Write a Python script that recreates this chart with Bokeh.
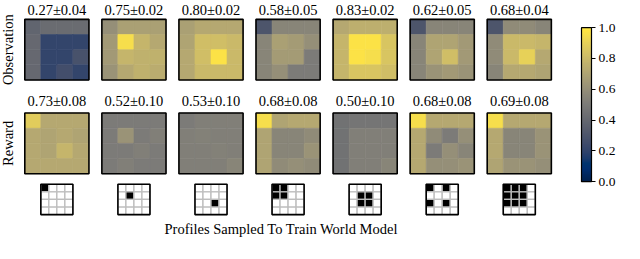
import numpy as np
from bokeh.plotting import figure
from bokeh.models import (Range1d, ColumnDataSource, LinearColorMapper, ColorBar,
                          FixedTicker, PrintfTickFormatter)
from bokeh.transform import transform
from bokeh.palettes import Cividis256
from bokeh.core.properties import value
from bokeh.embed import file_html
from bokeh.resources import INLINE

# ---------------- data ----------------
obs_titles = ["0.27±0.04", "0.75±0.02", "0.80±0.02", "0.58±0.05",
              "0.83±0.02", "0.62±0.05", "0.68±0.04"]
rew_titles = ["0.73±0.08", "0.52±0.10", "0.53±0.10", "0.68±0.08",
              "0.50±0.10", "0.68±0.08", "0.69±0.08"]
row_labels = ["Observation", "Reward"]
xlabel = "Profiles Sampled To Train World Model"
cbar_ticks = [0.0, 0.2, 0.4, 0.6, 0.8, 1.0]

obs_1 = [[0.38, 0.42, 0.42, 0.42], [0.40, 0.21, 0.21, 0.21], [0.40, 0.21, 0.21, 0.28], [0.40, 0.21, 0.26, 0.21]]
obs_2 = [[0.60, 0.68, 0.68, 0.68], [0.65, 0.95, 0.78, 0.72], [0.65, 0.78, 0.76, 0.76], [0.62, 0.72, 0.76, 0.74]]
obs_3 = [[0.68, 0.72, 0.72, 0.72], [0.70, 0.82, 0.82, 0.80], [0.72, 0.82, 0.97, 0.80], [0.72, 0.80, 0.80, 0.80]]
obs_4 = [[0.30, 0.55, 0.55, 0.55], [0.55, 0.68, 0.66, 0.60], [0.55, 0.66, 0.66, 0.50], [0.55, 0.60, 0.50, 0.50]]
obs_5 = [[0.72, 0.75, 0.75, 0.75], [0.78, 0.97, 0.97, 0.85], [0.78, 0.97, 0.95, 0.85], [0.78, 0.85, 0.85, 0.82]]
obs_6 = [[0.30, 0.55, 0.55, 0.55], [0.55, 0.70, 0.70, 0.65], [0.55, 0.70, 0.82, 0.65], [0.55, 0.62, 0.65, 0.62]]
obs_7 = [[0.30, 0.58, 0.58, 0.55], [0.58, 0.80, 0.80, 0.78], [0.58, 0.80, 0.90, 0.72], [0.55, 0.72, 0.72, 0.70]]

rew_1 = [[0.88, 0.72, 0.72, 0.72], [0.72, 0.70, 0.72, 0.70], [0.72, 0.70, 0.78, 0.72], [0.72, 0.72, 0.72, 0.72]]
rew_2 = [[0.50, 0.50, 0.50, 0.50], [0.50, 0.62, 0.50, 0.52], [0.50, 0.50, 0.52, 0.50], [0.50, 0.52, 0.50, 0.50]]
rew_3 = [[0.50, 0.52, 0.52, 0.52], [0.52, 0.53, 0.52, 0.52], [0.52, 0.52, 0.53, 0.52], [0.52, 0.52, 0.52, 0.55]]
rew_4 = [[0.95, 0.70, 0.72, 0.72], [0.70, 0.55, 0.55, 0.58], [0.70, 0.55, 0.55, 0.62], [0.70, 0.58, 0.60, 0.58]]
rew_5 = [[0.45, 0.47, 0.47, 0.47], [0.45, 0.52, 0.52, 0.52], [0.45, 0.52, 0.52, 0.52], [0.45, 0.52, 0.52, 0.55]]
rew_6 = [[0.95, 0.72, 0.72, 0.72], [0.72, 0.58, 0.50, 0.60], [0.72, 0.50, 0.60, 0.55], [0.72, 0.60, 0.60, 0.62]]
rew_7 = [[0.95, 0.72, 0.72, 0.72], [0.72, 0.55, 0.55, 0.62], [0.72, 0.55, 0.55, 0.62], [0.70, 0.62, 0.62, 0.60]]

prof_1 = [[1, 0, 0, 0], [0, 0, 0, 0], [0, 0, 0, 0], [0, 0, 0, 0]]
prof_2 = [[0, 0, 0, 0], [0, 1, 0, 0], [0, 0, 0, 0], [0, 0, 0, 0]]
prof_3 = [[0, 0, 0, 0], [0, 0, 0, 0], [0, 0, 1, 0], [0, 0, 0, 0]]
prof_4 = [[1, 1, 0, 0], [1, 1, 0, 0], [0, 0, 0, 0], [0, 0, 0, 0]]
prof_5 = [[0, 0, 0, 0], [0, 1, 1, 0], [0, 1, 1, 0], [0, 0, 0, 0]]
prof_6 = [[1, 0, 1, 0], [0, 0, 0, 0], [1, 0, 1, 0], [0, 0, 0, 0]]
prof_7 = [[1, 1, 1, 0], [1, 1, 1, 0], [1, 1, 1, 0], [0, 0, 0, 0]]

obs_maps = [obs_1, obs_2, obs_3, obs_4, obs_5, obs_6, obs_7]
rew_maps = [rew_1, rew_2, rew_3, rew_4, rew_5, rew_6, rew_7]
profiles = [prof_1, prof_2, prof_3, prof_4, prof_5, prof_6, prof_7]

# ---------------- layout (reference pixel units) ----------------
W, H = 640, 259
PW, PH = 622, 238
x_first, col_step, panel = 25.0, 79.3, 66.0
obs_top, rew_top = 20.5, 122.5
icon_top, icon = 200.0, 33.0

p = figure(width=PW, height=PH, x_range=Range1d(0, W), y_range=Range1d(-H, 0),
           output_backend="svg", toolbar_location=None, min_border=0,
           x_axis_type=None, y_axis_type=None)
p.grid.visible = False
p.outline_line_color = None
p.background_fill_color = "white"

mapper = LinearColorMapper(palette=Cividis256, low=0.0, high=1.0)
bw = LinearColorMapper(palette=["white", "black"], low=0.0, high=1.0)


def grid_source(maps, top, size):
    xs, ys, vs = [], [], []
    cs = size / 4.0
    for k, m in enumerate(maps):
        x0 = x_first + k * col_step + (panel - size) / 2.0
        for i in range(4):
            for j in range(4):
                xs.append(x0 + (j + 0.5) * cs)
                ys.append(-(top + (i + 0.5) * cs))
                vs.append(m[i][j])
    return ColumnDataSource(dict(x=xs, y=ys, v=vs)), cs


for maps, top in [(obs_maps, obs_top), (rew_maps, rew_top)]:
    src, cs = grid_source(maps, top, panel)
    p.rect("x", "y", width=cs, height=cs, source=src,
           fill_color=transform("v", mapper), line_color=transform("v", mapper),
           line_width=0.6)
    bx = [x_first + k * col_step + panel / 2 for k in range(len(maps))]
    p.rect(bx, [-(top + panel / 2)] * len(maps), width=panel, height=panel,
           fill_color=None, line_color="black", line_width=1.6)

FONT = value("Liberation Serif")
FS = "14.5px"

# titles
tx = [x_first + k * col_step + panel / 2 for k in range(7)]
p.text(tx, [-10.0] * 7, text=obs_titles, text_align="center",
       text_baseline="middle", text_font=FONT, text_font_size=FS, text_color="black")
p.text(tx, [-(rew_top - 13.0)] * 7, text=rew_titles, text_align="center",
       text_baseline="middle", text_font=FONT, text_font_size=FS, text_color="black")

# row labels
p.text([8, 8], [-(obs_top + panel / 2), -(rew_top + panel / 2)], text=row_labels,
       angle=np.pi / 2, text_align="center", text_baseline="middle",
       text_font=FONT, text_font_size=FS, text_color="black")

# profile icons
src, cs = grid_source(profiles, icon_top, icon)
p.rect("x", "y", width=cs, height=cs, source=src,
       fill_color=transform("v", bw), line_color="#bdbdbd", line_width=1.3)
p.rect(tx, [-(icon_top + icon / 2)] * 7, width=icon, height=icon,
       fill_color=None, line_color="black", line_width=1.6)

# x label
p.text([289], [-248.5], text=[xlabel], text_align="center", text_baseline="middle",
       text_font=FONT, text_font_size=FS, text_color="black")

# colorbar
sy = PH / H
cb = ColorBar(color_mapper=mapper, location=(581, (H - 189) * sy - 7.5),
              width=10, height=int(round(168 * sy)),
              padding=0, ticker=FixedTicker(ticks=cbar_ticks),
              formatter=PrintfTickFormatter(format="%.1f"),
              major_tick_in=0, major_tick_out=4, major_tick_line_color="black",
              bar_line_color="black", bar_line_width=1.2,
              label_standoff=3, background_fill_alpha=0,
              major_label_text_font="Liberation Serif",
              major_label_text_color="black",
              major_label_text_font_size="13.5px")
p.add_layout(cb)

open("out.html", "w").write(file_html(p, INLINE))
